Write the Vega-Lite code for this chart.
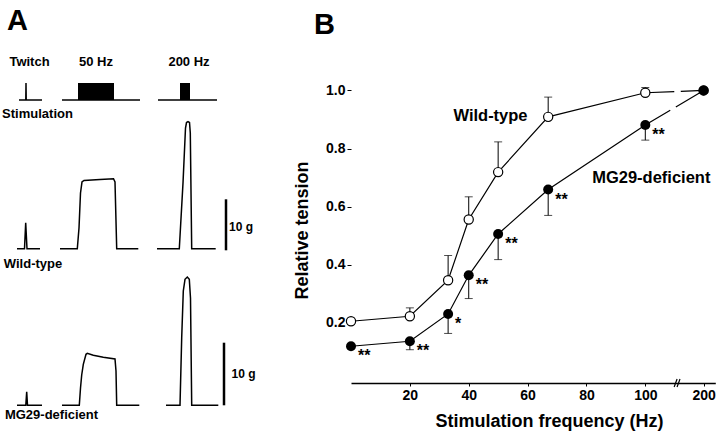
{
  "$schema": "https://vega.github.io/schema/vega-lite/v6.json",
  "padding": {"top": 7, "left": 0, "right": 0, "bottom": 0},
  "spacing": 23,
  "background": "white",
  "config": {
    "font": "Liberation Sans",
    "view": {"stroke": null},
    "text": {"font": "Liberation Sans", "fontWeight": "bold", "color": "black"},
    "title": {"font": "Liberation Sans", "fontWeight": "bold", "fontSize": 29, "color": "black", "anchor": "start", "frame": "group"}
  },
  "hconcat": [
    {
      "width": 270,
      "height": 392,
      "title": {"text": "A", "dx": 7, "offset": 5},
      "layer": [
        {
          "data": {"values": [
            {"trace": "stim_tw", "t": 19, "v": 333}, {"trace": "stim_tw", "t": 25.8, "v": 333}, {"trace": "stim_tw", "t": 26, "v": 350}, {"trace": "stim_tw", "t": 26.2, "v": 333}, {"trace": "stim_tw", "t": 42, "v": 333},
            {"trace": "stim_50", "t": 62, "v": 333}, {"trace": "stim_50", "t": 140, "v": 333},
            {"trace": "stim_200", "t": 158, "v": 333}, {"trace": "stim_200", "t": 217, "v": 333},
            {"trace": "wt_tw", "t": 17, "v": 184.3}, {"trace": "wt_tw", "t": 24.5, "v": 184.3}, {"trace": "wt_tw", "t": 25.7, "v": 210.3}, {"trace": "wt_tw", "t": 27, "v": 184.3}, {"trace": "wt_tw", "t": 40, "v": 184.3},
            {"trace": "wt_50", "t": 60, "v": 184.3}, {"trace": "wt_50", "t": 77.3, "v": 184.3}, {"trace": "wt_50", "t": 79, "v": 205}, {"trace": "wt_50", "t": 80.5, "v": 240}, {"trace": "wt_50", "t": 82, "v": 251}, {"trace": "wt_50", "t": 84, "v": 252.5}, {"trace": "wt_50", "t": 100, "v": 253.5}, {"trace": "wt_50", "t": 113.5, "v": 254.3}, {"trace": "wt_50", "t": 115, "v": 251}, {"trace": "wt_50", "t": 116.7, "v": 184.3}, {"trace": "wt_50", "t": 138.3, "v": 184.3},
            {"trace": "wt_200", "t": 157, "v": 184.3}, {"trace": "wt_200", "t": 179.3, "v": 184.3}, {"trace": "wt_200", "t": 183, "v": 250}, {"trace": "wt_200", "t": 185.5, "v": 305}, {"trace": "wt_200", "t": 186.5, "v": 310.5}, {"trace": "wt_200", "t": 188, "v": 311.3}, {"trace": "wt_200", "t": 189.5, "v": 310.5}, {"trace": "wt_200", "t": 190.3, "v": 300}, {"trace": "wt_200", "t": 191.7, "v": 184.3}, {"trace": "wt_200", "t": 215.7, "v": 184.3},
            {"trace": "mg_tw", "t": 17, "v": 27.7}, {"trace": "mg_tw", "t": 25.8, "v": 27.7}, {"trace": "mg_tw", "t": 26.7, "v": 41.3}, {"trace": "mg_tw", "t": 27.5, "v": 27.7}, {"trace": "mg_tw", "t": 42, "v": 27.7},
            {"trace": "mg_50", "t": 62, "v": 27.7}, {"trace": "mg_50", "t": 79.3, "v": 27.7}, {"trace": "mg_50", "t": 80.5, "v": 45}, {"trace": "mg_50", "t": 81.7, "v": 58}, {"trace": "mg_50", "t": 83.3, "v": 68.7}, {"trace": "mg_50", "t": 86, "v": 78.7}, {"trace": "mg_50", "t": 87.3, "v": 79.7}, {"trace": "mg_50", "t": 93.3, "v": 77.7}, {"trace": "mg_50", "t": 103.3, "v": 75.7}, {"trace": "mg_50", "t": 115, "v": 74}, {"trace": "mg_50", "t": 116, "v": 62}, {"trace": "mg_50", "t": 116.7, "v": 27.7}, {"trace": "mg_50", "t": 139.3, "v": 27.7},
            {"trace": "mg_200", "t": 166, "v": 27.7}, {"trace": "mg_200", "t": 180, "v": 27.7}, {"trace": "mg_200", "t": 181.7, "v": 95.3}, {"trace": "mg_200", "t": 183.3, "v": 142}, {"trace": "mg_200", "t": 185, "v": 153.7}, {"trace": "mg_200", "t": 187.3, "v": 156}, {"trace": "mg_200", "t": 189.3, "v": 153.7}, {"trace": "mg_200", "t": 190.5, "v": 135}, {"trace": "mg_200", "t": 191.7, "v": 27.7}, {"trace": "mg_200", "t": 218.3, "v": 27.7}
          ]},
          "mark": {"type": "line", "color": "black", "strokeWidth": 1.5},
          "encoding": {
            "x": {"field": "t", "type": "quantitative", "scale": {"domain": [0, 270], "nice": false, "zero": false}, "axis": null},
            "y": {"field": "v", "type": "quantitative", "scale": {"domain": [0, 392], "nice": false, "zero": false}, "axis": null},
            "detail": {"field": "trace"}
          }
        },
        {
          "data": {"values": [
            {"t": 78, "t2": 114, "v": 333, "v2": 350},
            {"t": 180, "t2": 190, "v": 333, "v2": 350}
          ]},
          "mark": {"type": "rect", "color": "black"},
          "encoding": {
            "x": {"field": "t", "type": "quantitative", "scale": {"domain": [0, 270], "nice": false, "zero": false}, "axis": null},
            "x2": {"field": "t2"},
            "y": {"field": "v", "type": "quantitative", "scale": {"domain": [0, 392], "nice": false, "zero": false}, "axis": null},
            "y2": {"field": "v2"}
          }
        },
        {
          "data": {"values": [
            {"t": 226, "v": 182.7, "v2": 233.7},
            {"t": 224, "v": 27.7, "v2": 90.3}
          ]},
          "mark": {"type": "rule", "color": "black", "strokeWidth": 2.5},
          "encoding": {
            "x": {"field": "t", "type": "quantitative", "scale": {"domain": [0, 270], "nice": false, "zero": false}, "axis": null},
            "y": {"field": "v", "type": "quantitative", "scale": {"domain": [0, 392], "nice": false, "zero": false}, "axis": null},
            "y2": {"field": "v2"}
          }
        },
        {
          "data": {"values": [
            {"label": "Twitch", "t": 29.5, "v": 371, "kind": "name"},
            {"label": "50 Hz", "t": 96, "v": 371, "kind": "name"},
            {"label": "200 Hz", "t": 189, "v": 371, "kind": "name"},
            {"label": "Stimulation", "t": 37.5, "v": 319, "kind": "name"},
            {"label": "Wild-type", "t": 33, "v": 169, "kind": "name"},
            {"label": "MG29-deficient", "t": 51.5, "v": 18, "kind": "name"},
            {"label": "10 g", "t": 241, "v": 206, "kind": "bar"},
            {"label": "10 g", "t": 243.5, "v": 59, "kind": "bar"}
          ]},
          "layer": [
            {
              "transform": [{"filter": "datum.kind === 'name'"}],
              "mark": {"type": "text", "fontSize": 13, "align": "center", "baseline": "middle"},
              "encoding": {
                "x": {"field": "t", "type": "quantitative", "scale": {"domain": [0, 270], "nice": false, "zero": false}, "axis": null},
                "y": {"field": "v", "type": "quantitative", "scale": {"domain": [0, 392], "nice": false, "zero": false}, "axis": null},
                "text": {"field": "label"}
              }
            },
            {
              "transform": [{"filter": "datum.kind === 'bar'"}],
              "mark": {"type": "text", "fontSize": 12, "align": "center", "baseline": "middle"},
              "encoding": {
                "x": {"field": "t", "type": "quantitative", "scale": {"domain": [0, 270], "nice": false, "zero": false}, "axis": null},
                "y": {"field": "v", "type": "quantitative", "scale": {"domain": [0, 392], "nice": false, "zero": false}, "axis": null},
                "text": {"field": "label"}
              }
            }
          ]
        }
      ]
    },
    {
      "width": 364,
      "height": 342,
      "title": {"text": "B", "dx": -37, "offset": 5, "dy": 4},
      "data": {"values": [
        {"g": "WT", "f": 0, "v": 0.206, "e": null, "star": ""},
        {"g": "WT", "f": 20, "v": 0.223, "e": 0.252, "star": ""},
        {"g": "WT", "f": 33, "v": 0.347, "e": 0.432, "star": ""},
        {"g": "WT", "f": 40, "v": 0.556, "e": 0.634, "star": ""},
        {"g": "WT", "f": 50, "v": 0.719, "e": 0.823, "star": ""},
        {"g": "WT", "f": 67, "v": 0.909, "e": 0.977, "star": ""},
        {"g": "WT", "f": 100, "v": 0.992, "e": 1.01, "star": ""},
        {"g": "WT", "f": 200, "v": 1.0, "e": null, "star": ""},
        {"g": "MG", "f": 0, "v": 0.12, "e": null, "star": "**"},
        {"g": "MG", "f": 20, "v": 0.137, "e": 0.108, "star": "**"},
        {"g": "MG", "f": 33, "v": 0.231, "e": 0.164, "star": "*"},
        {"g": "MG", "f": 40, "v": 0.364, "e": 0.284, "star": "**"},
        {"g": "MG", "f": 50, "v": 0.506, "e": 0.418, "star": "**"},
        {"g": "MG", "f": 67, "v": 0.659, "e": 0.57, "star": "**"},
        {"g": "MG", "f": 100, "v": 0.881, "e": 0.829, "star": "**"},
        {"g": "MG", "f": 200, "v": 1.0, "e": null, "star": ""}
      ]},
      "encoding": {
        "x": {
          "field": "f", "type": "quantitative",
          "scale": {"domain": [0, 100, 200, 216.5], "range": [0, 294.3, 352.6, 364.3], "nice": false, "zero": false},
          "axis": {
            "values": [20, 40, 60, 80, 100, 200], "grid": false, "title": "Stimulation frequency (Hz)",
            "domainColor": "black", "domainWidth": 1.6, "tickColor": "black", "tickSize": 3, "tickWidth": 1,
            "labelFontSize": 14, "labelFontWeight": "bold", "labelColor": "black", "labelPadding": 2,
            "titleFontSize": 18, "titleFontWeight": "bold", "titleColor": "black", "titlePadding": 10, "titleX": 198
          }
        },
        "y": {
          "field": "v", "type": "quantitative",
          "scale": {"domain": [-0.0065, 1.17], "nice": false, "zero": false},
          "axis": {
            "values": [0.2, 0.4, 0.6, 0.8, 1.0], "format": ".1f", "grid": false, "domain": false, "title": "Relative tension",
            "tickColor": "black", "tickSize": 4, "tickWidth": 1,
            "labelFontSize": 14, "labelFontWeight": "bold", "labelColor": "black", "labelPadding": 2,
            "titleFontSize": 18, "titleFontWeight": "bold", "titleColor": "black", "titlePadding": 14, "titleY": 189
          }
        }
      },
      "layer": [
        {
          "data": {"values": [{"axis": "y"}]},
          "mark": {"type": "rule", "color": "black", "strokeWidth": 1.6},
          "encoding": {"x": {"datum": 0}, "y": {"datum": -0.0065}, "y2": {"datum": 1.02}}
        },
        {
          "data": {"values": [
            {"fa": 149.5, "fb": 154.5, "ya": -0.02, "yb": 0.007},
            {"fa": 154.5, "fb": 159.5, "ya": -0.02, "yb": 0.007}
          ]},
          "mark": {"type": "rule", "color": "black", "strokeWidth": 1.2},
          "encoding": {
            "x": {"field": "fa", "type": "quantitative"},
            "x2": {"field": "fb"},
            "y": {"field": "ya", "type": "quantitative"},
            "y2": {"field": "yb"}
          }
        },
        {
          "transform": [{"filter": "datum.f <= 100"}],
          "mark": {"type": "line", "color": "black", "strokeWidth": 1.2},
          "encoding": {"detail": {"field": "g"}}
        },
        {
          "transform": [{"filter": "datum.f >= 100"}],
          "mark": {"type": "line", "color": "black", "strokeWidth": 1.2, "strokeDash": [29, 6.5, 300]},
          "encoding": {"detail": {"field": "g"}}
        },
        {
          "transform": [{"filter": "datum.e != null"}],
          "mark": {"type": "rule", "color": "black", "strokeWidth": 1},
          "encoding": {"y2": {"field": "e"}}
        },
        {
          "transform": [{"filter": "datum.e != null"}],
          "mark": {"type": "tick", "color": "black", "orient": "horizontal", "size": 8, "thickness": 1},
          "encoding": {"y": {"field": "e", "type": "quantitative"}}
        },
        {
          "transform": [{"filter": "datum.g === 'WT'"}],
          "mark": {"type": "point", "shape": "circle", "filled": false, "fill": "white", "fillOpacity": 1, "stroke": "black", "strokeWidth": 1.2, "size": 85, "opacity": 1}
        },
        {
          "transform": [{"filter": "datum.g === 'MG'"}],
          "mark": {"type": "point", "shape": "circle", "filled": true, "color": "black", "size": 100, "opacity": 1}
        },
        {
          "transform": [{"filter": "datum.star !== ''"}],
          "mark": {"type": "text", "fontSize": 16, "align": "left", "baseline": "middle", "dx": 7, "dy": 10},
          "encoding": {"text": {"field": "star"}}
        },
        {
          "data": {"values": [
            {"label": "Wild-type", "f": 47.4, "v": 0.911},
            {"label": "MG29-deficient", "f": 110.3, "v": 0.698}
          ]},
          "mark": {"type": "text", "fontSize": 16.5, "align": "center", "baseline": "middle"},
          "encoding": {"text": {"field": "label"}}
        }
      ]
    }
  ]
}
